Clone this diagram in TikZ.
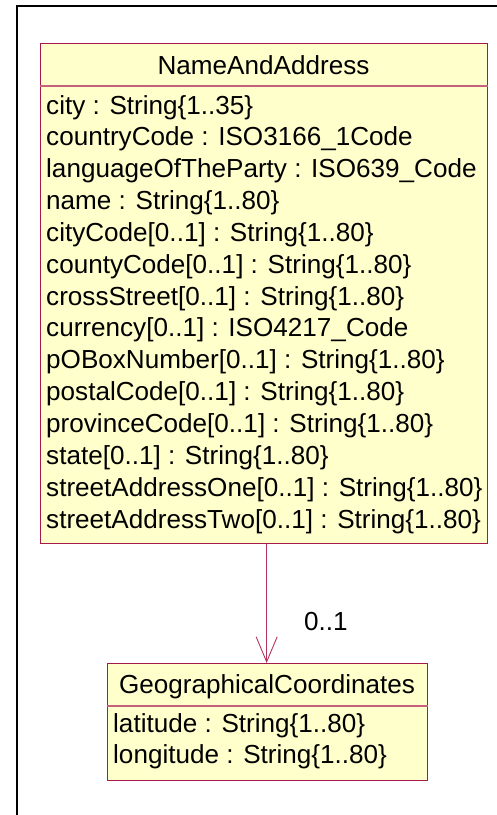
\documentclass[tikz,border=0pt]{standalone}
\usepackage{fontspec}
\setmainfont{Liberation Sans}
\usetikzlibrary{arrows.meta}
\definecolor{umlfill}{RGB}{255,255,204}
\definecolor{umlborder}{RGB}{165,25,75}
\definecolor{umlsep}{RGB}{200,95,125}
\definecolor{umlarrow}{RGB}{180,50,95}
\tikzset{
  classbox/.style={draw=umlborder, fill=umlfill, line width=1.3pt, inner sep=0pt, anchor=north west, rectangle},
  sepline/.style={draw=umlsep, line width=1.3pt},
  txt/.style={inner sep=0pt, font=\fontsize{26.1}{30}\selectfont, text=black},
  attr/.style={txt, anchor=base west},
  title/.style={txt, anchor=base},
  assoc/.style={draw=umlarrow, line width=0.9pt, -{Straight Barb[length=25pt,width=21pt,line width=0.9pt]}},
}
\begin{document}
\begin{tikzpicture}[x=1pt,y=-1pt]
\useasboundingbox (0,0) rectangle (497,815);
\draw[line width=2.5pt, black] (17,830) -- (17,6) -- (510,6);

% NameAndAddress
\node[classbox, minimum width=447pt, minimum height=500pt] (nad) at (40,43) {};
\draw[sepline] ([yshift=-43pt]nad.north west) -- ([yshift=-43pt]nad.north east);
\node[title] (nadt) at (263.5,74) {NameAndAddress};
\node[attr] (a1) at (46,114) {city : String\{1..35\}};
\node[attr] (a2) at (46,145.85) {countryCode : ISO3166\_1Code};
\node[attr] (a3) at (46,177.7) {languageOfTheParty : ISO639\_Code};
\node[attr] (a4) at (46,209.55) {name : String\{1..80\}};
\node[attr] (a5) at (46,241.4) {cityCode[0..1] : String\{1..80\}};
\node[attr] (a6) at (46,273.25) {countyCode[0..1] : String\{1..80\}};
\node[attr] (a7) at (46,305.1) {crossStreet[0..1] : String\{1..80\}};
\node[attr] (a8) at (46,336.95) {currency[0..1] : ISO4217\_Code};
\node[attr] (a9) at (46,368.8) {pOBoxNumber[0..1] : String\{1..80\}};
\node[attr] (a10) at (46,400.65) {postalCode[0..1] : String\{1..80\}};
\node[attr] (a11) at (46,432.5) {provinceCode[0..1] : String\{1..80\}};
\node[attr] (a12) at (46,464.35) {state[0..1] : String\{1..80\}};
\node[attr] (a13) at (46,496.2) {streetAddressOne[0..1] : String\{1..80\}};
\node[attr] (a14) at (46,528.05) {streetAddressTwo[0..1] : String\{1..80\}};

% GeographicalCoordinates
\node[classbox, minimum width=320pt, minimum height=117pt] (geo) at (107,663) {};
\draw[sepline] ([yshift=-43pt]geo.north west) -- ([yshift=-43pt]geo.north east);
\node[title] (geot) at (267,693) {GeographicalCoordinates};
\node[attr] (g1) at (113,732) {latitude : String\{1..80\}};
\node[attr] (g2) at (113,763) {longitude : String\{1..80\}};

% association
\draw[assoc] ([xshift=-1pt]geo.north |- nad.south) -- ([xshift=-1pt]geo.north);
\node[attr] (mult) at (304,630) {0..1};
\end{tikzpicture}
\end{document}
